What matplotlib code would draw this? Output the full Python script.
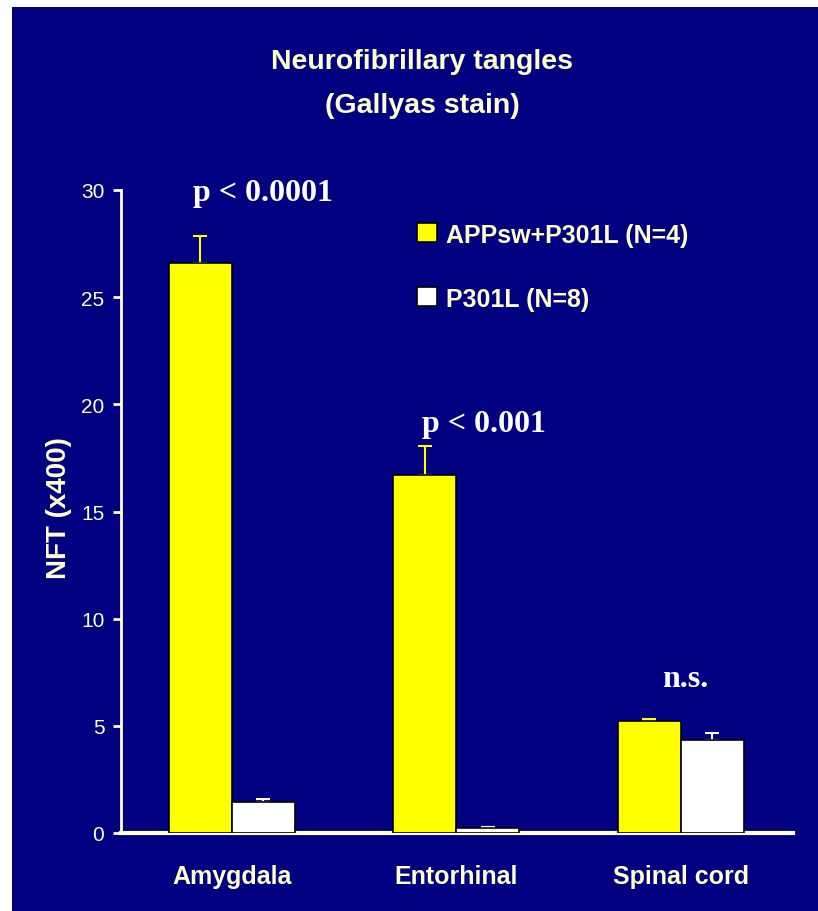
"""Neurofibrillary tangles (Gallyas stain) bar chart, navy slide style."""

import matplotlib

matplotlib.use("Agg")
import matplotlib.pyplot as plt
import numpy as np
from matplotlib.patches import Patch, Rectangle

REGIONS = ["Amygdala", "Entorhinal", "Spinal cord"]
GROUPS = ["APPsw+P301L (N=4)", "P301L (N=8)"]
APP_MEAN = [26.6, 16.7, 5.23]
APP_SEM = [1.25, 1.35, 0.1]
P301L_MEAN = [1.45, 0.23, 4.34]
P301L_SEM = [0.14, 0.05, 0.33]
P_LABELS = ["p < 0.0001", "p < 0.001", "n.s."]
P_LABEL_Y = [29.9, 19.1, 7.2]
Y_TICKS = [0, 5, 10, 15, 20, 25, 30]

NAVY = "#000080"
YELLOW = "#FFFF00"
CREAM = "#FFFFCC"

W, H = 818, 912


def main():
    plt.rcParams["font.family"] = ["Liberation Sans", "DejaVu Sans"]
    fig = plt.figure(figsize=(W / 100, H / 100), dpi=100)
    fig.patch.set_facecolor("white")
    fig.patches.append(
        Rectangle((12 / W, 0), 1 - 12 / W, 1 - 8 / H, transform=fig.transFigure,
                  facecolor=NAVY, edgecolor="none", zorder=-10)
    )

    ax = fig.add_axes([121 / W, 78 / H, (793 - 121) / W, (834 - 191) / H])
    ax.set_facecolor("none")
    ax.set_zorder(5)

    x = np.arange(len(REGIONS))
    bw = 0.28
    ax.bar(x - bw / 2, APP_MEAN, bw, color=YELLOW, edgecolor="black",
           linewidth=1.2, zorder=3)
    ax.bar(x + bw / 2, P301L_MEAN, bw, color="white", edgecolor="black",
           linewidth=1.2, zorder=3)
    ax.errorbar(x - bw / 2, APP_MEAN, yerr=[np.zeros(3), APP_SEM], fmt="none",
                ecolor=YELLOW, elinewidth=1.5, capsize=5, capthick=1.5, zorder=2)
    ax.errorbar(x + bw / 2, P301L_MEAN, yerr=[np.zeros(3), P301L_SEM], fmt="none",
                ecolor="white", elinewidth=1.5, capsize=5, capthick=1.5, zorder=2)

    ax.set_xlim(-0.494, 2.5)
    ax.set_ylim(0, 30)
    ax.set_yticks(Y_TICKS)
    ax.set_yticklabels([str(t) for t in Y_TICKS], fontsize=15, color=CREAM)
    ax.set_xticks(x)
    ax.set_xticklabels(REGIONS, fontsize=18, fontweight="bold", color=CREAM)
    ax.tick_params(axis="x", length=0, pad=22)
    ax.tick_params(axis="y", length=6, width=2, color=CREAM, pad=6)
    for side in ("top", "right"):
        ax.spines[side].set_visible(False)
    ax.spines["left"].set_color(CREAM)
    ax.spines["left"].set_linewidth(2)
    ax.spines["bottom"].set_color(CREAM)
    ax.spines["bottom"].set_linewidth(3)

    ax.set_ylabel("NFT (x400)", fontsize=20, fontweight="bold", color=CREAM)
    ax.yaxis.set_label_coords(-(121 - 72) / 672, (834 - 508) / 643)

    # significance labels, nudged right of the group centre as in the slide
    p_x = x + np.array([0.14, 0.125, 0.02])
    for xi, yi, lab in zip(p_x, P_LABEL_Y, P_LABELS):
        ax.text(xi, yi, lab, ha="center", va="center", fontsize=23,
                fontweight="bold", color="white",
                family=["Liberation Serif", "DejaVu Serif"], clip_on=False)

    fig.text(422 / W, 1 - 62 / H, "Neurofibrillary tangles", ha="center",
             va="center", fontsize=20.5, fontweight="bold", color=CREAM)
    fig.text(422 / W, 1 - 106 / H, "(Gallyas stain)", ha="center",
             va="center", fontsize=20.5, fontweight="bold", color=CREAM)

    handles = [Patch(facecolor=YELLOW, edgecolor="black", linewidth=1.2),
               Patch(facecolor="white", edgecolor="black", linewidth=1.2)]
    leg = fig.legend(handles, GROUPS, loc="upper left",
                     bbox_to_anchor=(394 / W, 1 - 201 / H), frameon=False,
                     fontsize=18, handlelength=0.8, handleheight=0.8,
                     handletextpad=0.4, labelspacing=1.6)
    for t in leg.get_texts():
        t.set_color(CREAM)
        t.set_fontweight("bold")

    fig.savefig("out.png", dpi=100, facecolor=fig.get_facecolor())


if __name__ == "__main__":
    main()
